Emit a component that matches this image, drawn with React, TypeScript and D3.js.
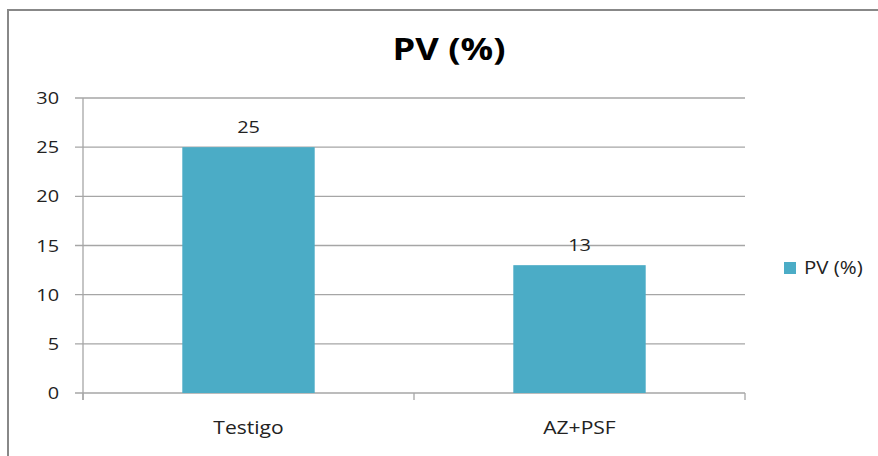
import React from 'react';
import * as d3 from 'd3';

const categories = ['Testigo', 'AZ+PSF'];
const values = [25, 13];
const yTicks = [0, 5, 10, 15, 20, 25, 30];
const seriesName = 'PV (%)';
const title = 'PV (%)';

const font = '"Open Sans", "DejaVu Sans", sans-serif';
const stretch = 1.17; // source image text looks horizontally widened

const Label = ({ x, y, anchor = 'start', size, bold = false, children }: any) => (
  <text
    transform={`translate(${x},${y}) scale(${stretch},1)`}
    textAnchor={anchor}
    fontFamily={font}
    fontWeight={bold ? 'bold' : 'normal'}
    fontSize={size}
    fill={bold ? '#000' : '#222'}
  >
    {children}
  </text>
);

const App = () => {
  const width = 878;
  const height = 456;
  const margin = { top: 98, right: 133, bottom: 63, left: 83 };

  const x = d3
    .scaleBand()
    .domain(categories)
    .range([margin.left, width - margin.right])
    .paddingInner(0.6)
    .paddingOuter(0.3);

  const y = d3
    .scaleLinear()
    .domain([0, 30])
    .range([height - margin.bottom, margin.top]);

  const band = (width - margin.left - margin.right) / categories.length;
  const catTicks = d3.range(categories.length + 1).map((i) => margin.left + i * band);

  return (
    <svg
      width={width}
      height={height}
      style={{ position: 'absolute', left: 0, top: 0, background: '#fff' }}
    >
      <rect x={8} y={10} width={880} height={460} fill="#fff" stroke="#888" strokeWidth={2} />
      <Label x={449} y={60} anchor="middle" size={31} bold>
        {title}
      </Label>

      {yTicks.map((t) => (
        <g key={t}>
          <line
            x1={margin.left - 8}
            x2={width - margin.right}
            y1={y(t)}
            y2={y(t)}
            stroke="#a6a6a6"
            strokeWidth={1.3}
          />
          <Label x={59} y={y(t) + 6} anchor="end" size={17}>
            {t}
          </Label>
        </g>
      ))}

      <line x1={margin.left} x2={margin.left} y1={margin.top} y2={y(0) + 7} stroke="#a6a6a6" strokeWidth={1.3} />
      {catTicks.map((cx, i) => (
        <line key={i} x1={cx} x2={cx} y1={y(0)} y2={y(0) + 7} stroke="#a6a6a6" strokeWidth={1.3} />
      ))}

      {categories.map((c, i) => (
        <g key={c}>
          <rect
            x={x(c)}
            y={y(values[i])}
            width={x.bandwidth()}
            height={y(0) - y(values[i])}
            fill="#4bacc6"
          />
          <Label x={(x(c) ?? 0) + x.bandwidth() / 2} y={y(values[i]) - 14} anchor="middle" size={17}>
            {values[i]}
          </Label>
          <Label x={(x(c) ?? 0) + x.bandwidth() / 2} y={434} anchor="middle" size={18}>
            {c}
          </Label>
        </g>
      ))}

      <rect x={784} y={262} width={12} height={12} fill="#4bacc6" />
      <Label x={804} y={274} size={17.5}>
        {seriesName}
      </Label>
    </svg>
  );
};

export default App;
